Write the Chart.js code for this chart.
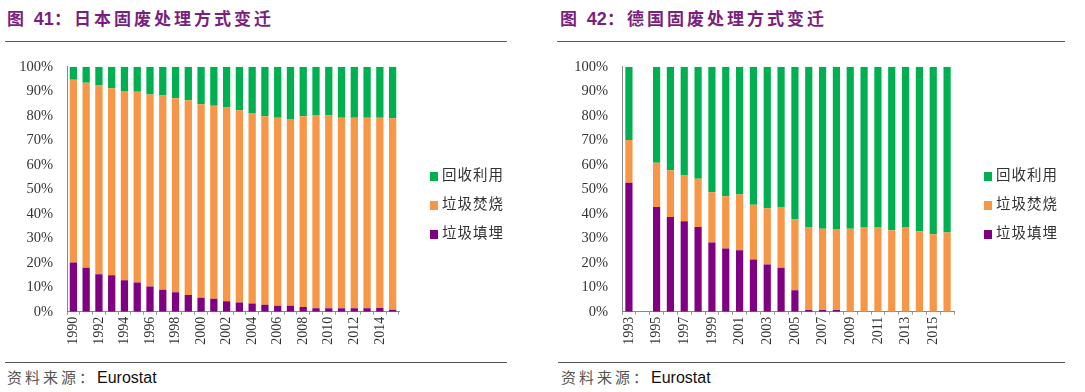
<!DOCTYPE html>
<html>
<head>
<meta charset="utf-8">
<script src="https://cdn.jsdelivr.net/npm/chart.js@4.4.0/dist/chart.umd.min.js"></script>
<style>
  body { margin: 0; width: 1085px; height: 392px; background: #fff; position: relative; overflow: hidden; font-family: "Noto Sans CJK SC", sans-serif; }
  .title { position: absolute; top: 5px; font-size: 17px; color: #7a1f80; letter-spacing: 3px; white-space: nowrap; font-weight: bold; }
  .title b { font-family: "Liberation Sans", Arial, sans-serif; font-size: 18px; letter-spacing: 0; }
  .rule { position: absolute; height: 1px; background: #555; }
  .src { position: absolute; top: 366px; font-size: 15px; color: #555; letter-spacing: 3px; white-space: nowrap; }
  .src span { font-family: "Liberation Sans", Arial, sans-serif; color: #111; font-size: 16px; letter-spacing: 0; }
  .wrap { position: absolute; top: 52px; width: 530px; height: 304px; }
  .legend { position: absolute; font-size: 14.5px; color: #333; line-height: 29px; }
  .legend div { white-space: nowrap; letter-spacing: 1px; }
  .legend i { display: inline-block; width: 8px; height: 9px; margin-right: 4px; vertical-align: -1px; }
</style>
</head>
<body>
<div class="title" style="left:7px">图 <b>41</b>：日本固废处理方式变迁</div>
<div class="rule" style="left:5px; top:41px; width:502px"></div>
<div class="title" style="left:560px">图 <b>42</b>：德国固废处理方式变迁</div>
<div class="rule" style="left:557px; top:41px; width:508px"></div>

<div class="wrap" style="left:0px"><canvas id="jp"></canvas></div>
<div class="wrap" style="left:555px"><canvas id="de"></canvas></div>

<div class="legend" style="left:430px; top:159px">
  <div><i style="background:#00b050"></i>回收利用</div>
  <div><i style="background:#f79646"></i>垃圾焚烧</div>
  <div><i style="background:#7f0080"></i>垃圾填埋</div>
</div>
<div class="legend" style="left:984px; top:159px">
  <div><i style="background:#00b050"></i>回收利用</div>
  <div><i style="background:#f79646"></i>垃圾焚烧</div>
  <div><i style="background:#7f0080"></i>垃圾填埋</div>
</div>

<div class="rule" style="left:5px; top:362px; width:502px"></div>
<div class="src" style="left:7px">资料来源：<span>Eurostat</span></div>
<div class="rule" style="left:558px; top:362px; width:507px"></div>
<div class="src" style="left:561px">资料来源：<span>Eurostat</span></div>

<script>
// Japan, 1990-2015 (%)
var jpYears = ['1990','1991','1992','1993','1994','1995','1996','1997','1998','1999','2000','2001','2002',
               '2003','2004','2005','2006','2007','2008','2009','2010','2011','2012','2013','2014','2015'];
var jpLandfill = [20.1,17.9,15.3,14.9,12.8,11.9,10.3,9.0,7.9,6.8,5.7,5.3,4.3,3.8,3.3,2.8,2.4,2.4,1.9,1.4,1.4,1.4,1.4,1.4,1.5,0.8];
var jpIncineration = [74.6,75.5,77.0,76.3,77.3,77.9,78.4,79.2,79.2,79.5,79.0,78.8,79.0,78.4,77.8,77.0,76.8,76.3,77.9,78.9,78.7,77.8,77.8,77.8,77.7,78.2];
var jpRecycling = [5.3,6.6,7.7,8.8,9.9,10.2,11.3,11.8,12.9,13.7,15.3,15.9,16.7,17.8,18.9,20.2,20.8,21.3,20.2,19.7,19.9,20.8,20.8,20.8,20.8,21.0];

// Germany, 1993-2016 (%), 1994 missing
var deYears = ['1993','1994','1995','1996','1997','1998','1999','2000','2001','2002','2003','2004',
               '2005','2006','2007','2008','2009','2010','2011','2012','2013','2014','2015','2016'];
var deLandfill = [52.6,null,42.7,38.7,36.9,34.6,28.2,25.8,25.1,21.3,19.3,17.9,8.8,0.7,0.7,0.7,0,0,0,0,0,0,0,0];
var deIncineration = [17.5,null,18.1,19.0,18.7,19.7,20.6,21.3,22.7,22.4,22.9,24.8,28.8,33.9,33.2,33.1,33.9,34.6,34.6,33.2,34.6,32.8,31.6,32.3];
var deRecycling = [29.9,null,39.2,42.3,44.4,45.7,51.2,52.9,52.2,56.3,57.8,57.3,62.4,65.4,66.1,66.2,66.1,65.4,65.4,66.8,65.4,67.2,68.4,67.7];

var seriesNames = ['垃圾填埋', '垃圾焚烧', '回收利用'];
var seriesColors = ['#7f0080', '#f79646', '#00b050'];

function makeChart(id, years, landfill, incin, recyc, barPct) {
    var vals = [landfill, incin, recyc];
    return new Chart(document.getElementById(id), {
        type: 'bar',
        data: {
            labels: years,
            datasets: vals.map((v, i) => ({
                label: seriesNames[i],
                data: v,
                backgroundColor: seriesColors[i],
                borderWidth: 0,
                categoryPercentage: 1,
                barPercentage: barPct
            }))
        },
        options: {
            responsive: false,
            animation: false,
            devicePixelRatio: 1,
            layout: { padding: { top: 0, right: 131, left: 0, bottom: 0 } },
            plugins: { legend: { display: false }, tooltip: { enabled: false } },
            scales: {
                x: {
                    stacked: true,
                    grid: { display: true, drawOnChartArea: false, tickLength: 3, color: '#999' },
                    border: { color: '#888' },
                    ticks: {
                        autoSkip: false, minRotation: 90, maxRotation: 90, padding: 2,
                        color: '#333', font: { family: 'Liberation Serif', size: 14 },
                        callback: function (v, i) { return i % 2 === 0 ? this.getLabelForValue(v) : ''; }
                    },
                    afterFit: function (s) { s.height = 44.3; }
                },
                y: {
                    stacked: true, min: 0, max: 100,
                    grid: { display: false },
                    border: { color: '#888' },
                    ticks: {
                        stepSize: 10, padding: 6, color: '#333',
                        font: { family: 'Liberation Serif', size: 14.5 },
                        callback: v => v + '%'
                    },
                    afterFit: function (s) { s.width = 67; }
                }
            }
        }
    });
}

document.getElementById('jp').width = 530; document.getElementById('jp').height = 304;
document.getElementById('de').width = 530; document.getElementById('de').height = 304;
makeChart('jp', jpYears, jpLandfill, jpIncineration, jpRecycling, 0.57);
makeChart('de', deYears, deLandfill, deIncineration, deRecycling, 0.52);
</script>
</body>
</html>
